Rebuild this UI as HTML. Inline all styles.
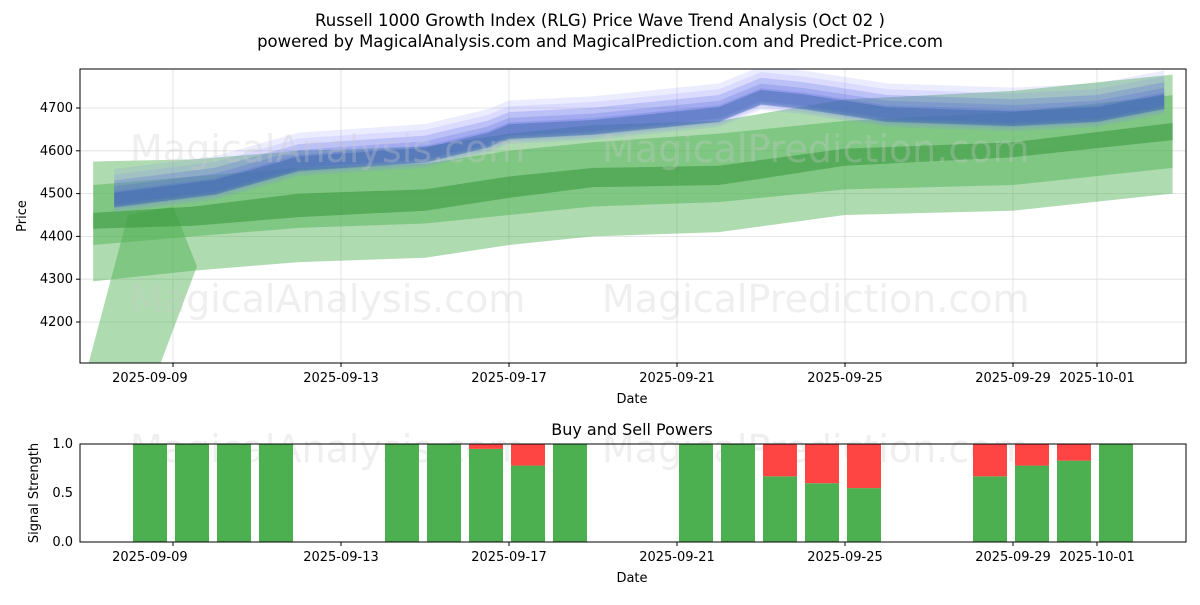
<!DOCTYPE html>
<html><head><meta charset="utf-8"><style>
body{margin:0;background:#fff;font-family:"Liberation Sans","DejaVu Sans",sans-serif}
svg text{font-family:"DejaVu Sans","Liberation Sans",sans-serif}
</style></head><body>
<svg id="s" width="1200" height="600" xmlns="http://www.w3.org/2000/svg">
<rect width="1200" height="600" fill="#fff"/>
<text x="600" y="26" font-size="16.5" text-anchor="middle">Russell 1000 Growth Index (RLG) Price Wave Trend Analysis (Oct 02 )</text>
<text x="600" y="47" font-size="16.5" text-anchor="middle">powered by MagicalAnalysis.com and MagicalPrediction.com and Predict-Price.com</text>
<defs><clipPath id="c1"><rect x="80" y="69" width="1106" height="294"/></clipPath></defs>
<g id="grid1"></g>
<g id="bands" clip-path="url(#c1)"></g>
<g font-size="38" fill="#ccc" opacity="0.3">
<text x="130" y="162">MagicalAnalysis.com</text><text x="602" y="162">MagicalPrediction.com</text>
<text x="130" y="312">MagicalAnalysis.com</text><text x="602" y="312">MagicalPrediction.com</text>
<text x="130" y="462">MagicalAnalysis.com</text><text x="602" y="462">MagicalPrediction.com</text>
</g>
<rect x="80" y="69" width="1106" height="294" fill="none" stroke="#000"/>
<g id="ax1" font-size="13"></g>
<text x="632" y="403" font-size="13" text-anchor="middle">Date</text>
<text x="26" y="216" font-size="13" text-anchor="middle" transform="rotate(-90 26 216)">Price</text>
<text x="632" y="435" font-size="16" text-anchor="middle">Buy and Sell Powers</text>
<g id="bars"></g>
<rect x="80" y="444" width="1106" height="98" fill="none" stroke="#000"/>
<g id="ax2" font-size="13"></g>
<text x="632" y="582" font-size="13" text-anchor="middle">Date</text>
<text x="38" y="493" font-size="13" text-anchor="middle" transform="rotate(-90 38 493)">Signal Strength</text>
</svg>
<script>
const tickDays=[8.45,13,17,21,25,29,31];
const tickLabels=["2025-09-09","2025-09-13","2025-09-17","2025-09-21","2025-09-25","2025-09-29","2025-10-01"];
const priceTicks=[4200,4300,4400,4500,4600,4700];
const gDays=[7.1,9.5,12,15,17,19,22,25,29,32.8];
const lightUp=[4575,4580,4600,4610,4640,4660,4670,4720,4740,4778];
const lightLo=[4295,4320,4340,4350,4380,4400,4410,4450,4460,4500];
const midUp=[4520,4540,4560,4570,4600,4620,4640,4670,4690,4730];
const midLo=[4380,4400,4420,4430,4450,4470,4480,4510,4520,4560];
const darkUp=[4455,4470,4500,4510,4540,4560,4565,4605,4620,4665];
const darkLo=[4418,4425,4445,4460,4490,4515,4520,4565,4585,4625];
const wedgeDays=[6.98,7.93,9.0,9.57,8.69];
const wedgeVal=[4100,4450,4470,4330,4100];
const bDays=[7.6,10,12,15,16.5,17,19,22,23,24,26,29,31,32.6];
const bCenter=[4490,4520,4575,4595,4630,4650,4660,4690,4730,4720,4690,4680,4690,4720];
const bWidths=[18,30,45,60,75];
const sigDays=[9,10,11,12,15,16,17,18,19,22,23,24,25,26,29,30,31,32];
const buyVals=[1,1,1,1,1,1,0.95,0.78,1,1,1,0.67,0.6,0.55,0.67,0.78,0.83,1];
const X=d=>173+(d-9)*42;
const Y=v=>108+(4700-v)*0.428;
const Y2=v=>542-v*98;
const NS="http://www.w3.org/2000/svg";
function mk(p,t,a){const e=document.createElementNS(NS,t);for(const k in a)e.setAttribute(k,a[k]);document.getElementById(p).appendChild(e);return e;}
tickDays.forEach((d,i)=>{
 const gd=i===0?9:d;
 const g=mk('grid1','line',{x1:X(gd),x2:X(gd),y1:69,y2:363,stroke:'#ddd','stroke-width':0.8});
 
 
 [['ax1',363,382],['ax2',542,561]].forEach(([ax,y0,ty])=>{
  const t=mk(ax,'line',{x1:X(gd),x2:X(gd),y1:y0,y2:y0+4,stroke:'#000'});
  
  
  const l=mk(ax,'text',{x:X(d),y:ty,'text-anchor':'middle'});l.textContent=tickLabels[i];
  
  
 });
});
priceTicks.forEach(v=>{
 const g=mk('grid1','line',{x1:80,x2:1186,y1:Y(v),y2:Y(v),stroke:'#ddd','stroke-width':0.8});
 
 
 const l=mk('ax1','text',{x:73,y:Y(v)+4,'text-anchor':'end'});l.textContent=v;
 
 
 const t=mk('ax1','line',{x1:76,x2:80,y1:Y(v),y2:Y(v),stroke:'#000'});
 
 
});
[0,0.5,1].forEach(v=>{
 const l=mk('ax2','text',{x:73,y:Y2(v)+4,'text-anchor':'end'});l.textContent=v.toFixed(1);
 
 
});
function band(days,up,lo,fill,op,name){
 const pts=days.map((d,i)=>X(d)+','+Y(up[i])).concat(days.map((d,i)=>X(d)+','+Y(lo[i])).reverse());
 const p=mk('bands','polygon',{points:pts.join(' '),fill:fill,'fill-opacity':op});
 
 
}
band(gDays,lightUp,lightLo,'#4caf50',0.45,'green-outer-band');
const w=mk('bands','polygon',{points:wedgeDays.map((d,i)=>X(d)+','+Y(wedgeVal[i])).join(' '),fill:'#4caf50','fill-opacity':0.45});


band(gDays,midUp,midLo,'#4caf50',0.45,'green-mid-band');
band(gDays,darkUp,darkLo,'#3a9a3e',0.6,'green-core-band');
bWidths.slice().reverse().forEach((wd,i)=>{
 band(bDays,bCenter.map(v=>v+wd*0.9),bCenter.map(v=>v-wd*0.35-8),i<2?'#8080ff':'#4a5fd8',i<2?0.15:0.22,'blue-wave-band');
});
band(bDays,bCenter.map(v=>v+12),bCenter.map(v=>v-22),'#3a65a8',0.45,'blue-core-band');
sigDays.forEach((d,i)=>{
 const b=mk('bars','rect',{x:X(d)-23-17,width:34,y:Y2(buyVals[i]),height:buyVals[i]*98,fill:'#4caf50'});
 
 
 if(buyVals[i]<1){const s=mk('bars','rect',{x:X(d)-23-17,width:34,y:Y2(1),height:(1-buyVals[i])*98,fill:'#ff4444'});
 
 }
});
</script>
</body></html>
